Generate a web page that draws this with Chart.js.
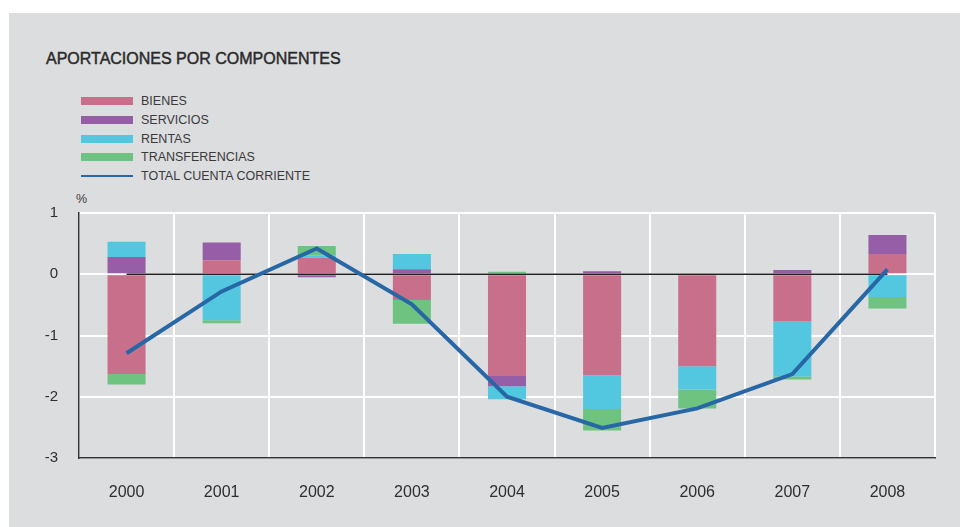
<!DOCTYPE html>
<html>
<head>
<meta charset="utf-8">
<script src="https://cdn.jsdelivr.net/npm/chart.js@4.4.1/dist/chart.umd.min.js"></script>
<style>
  html, body { margin: 0; padding: 0; background: #fff; }
  body { width: 960px; height: 527px; position: relative; overflow: hidden; font-family: "Liberation Sans", Arial, sans-serif; color: #2e2e2e; }
  #panel { position: absolute; left: 9px; top: 13px; right: 0; bottom: 0; background: #dcdddf; }
  #title { position: absolute; left: 46px; top: 50px; font-size: 16px; -webkit-text-stroke: 0.45px #2a2a2a; color: #2a2a2a; }
  #legend { position: absolute; left: 81px; top: 92px; }
  .row { height: 18.7px; display: flex; align-items: center; font-size: 12.5px; color: #3a3a3a; }
  .sw { width: 52px; height: 8px; margin-right: 8px; }
  .ln { width: 52px; height: 2px; margin-right: 8px; }
  #unit { position: absolute; left: 76px; top: 192px; font-size: 12.5px; color: #3a3a3a; }
  #wrap { position: absolute; left: 0; top: 0; width: 960px; height: 527px; }
</style>
</head>
<body>
<div id="panel"></div>
<div id="title">APORTACIONES POR COMPONENTES</div>
<div id="legend"></div>
<div id="unit">%</div>
<div id="wrap"><canvas id="chart" width="960" height="527"></canvas></div>
<script>
const years = ['2000', '2001', '2002', '2003', '2004', '2005', '2006', '2007', '2008'];
const bienes = [-1.63, 0.23, 0.27, -0.42, -1.66, -1.65, -1.50, -0.77, 0.33];
const servicios = [0.28, 0.29, -0.05, 0.08, -0.17, 0.05, 0, 0.07, 0.31];
const rentas = [0.25, -0.75, 0.04, 0.25, -0.21, -0.55, -0.38, -0.90, -0.37];
const transferencias = [-0.17, -0.05, 0.15, -0.39, 0.04, -0.35, -0.31, -0.05, -0.19];
const total = [-1.29, -0.28, 0.42, -0.49, -2.0, -2.51, -2.19, -1.63, 0.08];
const zero = [0, 0, 0, 0, 0, 0, 0, 0, 0];
const yTicks = [1, 0, -1, -2, -3];

const colors = {
  bienes: '#c8708b',
  servicios: '#955ea6',
  rentas: '#53c7e0',
  transferencias: '#6fc381',
  total: '#2867a5',
};

const barSets = [
  { label: 'BIENES', data: bienes, color: colors.bienes },
  { label: 'SERVICIOS', data: servicios, color: colors.servicios },
  { label: 'RENTAS', data: rentas, color: colors.rentas },
  { label: 'TRANSFERENCIAS', data: transferencias, color: colors.transferencias },
];

// html legend
const legend = document.getElementById('legend');
barSets.forEach(s => {
  legend.insertAdjacentHTML('beforeend',
    '<div class="row"><div class="sw" style="background:' + s.color + '"></div>' + s.label + '</div>');
});
legend.insertAdjacentHTML('beforeend',
  '<div class="row"><div class="ln" style="background:' + colors.total + '"></div>TOTAL CUENTA CORRIENTE</div>');

const ctx = document.getElementById('chart').getContext('2d');
new Chart(ctx, {
  type: 'bar',
  data: {
    labels: years,
    datasets: [
      {
        type: 'line',
        label: 'TOTAL CUENTA CORRIENTE',
        data: total,
        borderColor: colors.total,
        borderWidth: 4,
        pointRadius: 0,
        tension: 0,
        order: 0,
        stack: 'line',
      },
      {
        type: 'line',
        label: 'zero',
        data: zero,
        borderColor: '#222',
        borderWidth: 1.3,
        pointRadius: 0,
        order: 0.5,
        stack: 'zero',
      },
      ...barSets.map(s => ({
        label: s.label,
        data: s.data,
        backgroundColor: s.color,
        borderWidth: 0,
        barPercentage: 0.4,
        categoryPercentage: 1,
        order: 1,
        stack: 'bars',
      })),
    ],
  },
  options: {
    responsive: false,
    animation: false,
    layout: { padding: { left: 0, top: 213, right: 25, bottom: 0 } },
    plugins: {
      legend: { display: false },
      tooltip: { enabled: false },
    },
    scales: {
      x: {
        stacked: true,
        grid: { color: '#ffffff', lineWidth: 2, drawTicks: false, offset: true },
        border: { color: '#333', width: 1.5 },
        ticks: { color: '#2e2e2e', padding: 25, font: { family: 'Liberation Sans', size: 16 } },
        afterFit(s) { s.height = 527 - 458; },
      },
      y: {
        stacked: true,
        min: -3,
        max: 1,
        afterBuildTicks(s) { s.ticks = yTicks.map(v => ({ value: v })); },
        grid: { color: '#ffffff', lineWidth: 2, drawTicks: false },
        border: { color: '#333', width: 1.5 },
        ticks: { color: '#2e2e2e', padding: 21, font: { family: 'Liberation Sans', size: 15 } },
        afterFit(s) { s.width = 79; },
      },
    },
  },
});
</script>
</body>
</html>
